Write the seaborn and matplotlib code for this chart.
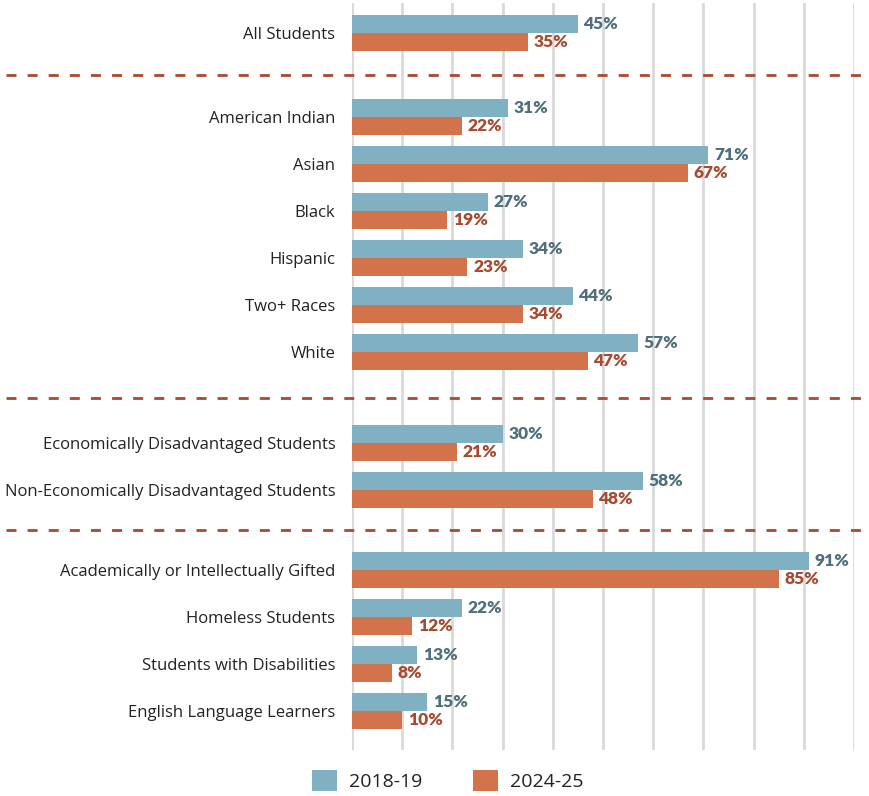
import matplotlib
matplotlib.use("Agg")
import matplotlib.pyplot as plt
import matplotlib.transforms as mtransforms
import pandas as pd
import seaborn as sns

# Student groups, their row positions (gaps separate the group blocks)
groups = [
    "All Students",
    "American Indian", "Asian", "Black", "Hispanic", "Two+ Races", "White",
    "Economically Disadvantaged Students", "Non-Economically Disadvantaged Students",
    "Academically or Intellectually Gifted", "Homeless Students",
    "Students with Disabilities", "English Language Learners",
]
rows = [0, 1.8, 2.8, 3.8, 4.8, 5.8, 6.8, 8.75, 9.75, 11.45, 12.45, 13.45, 14.45]
separators = [0.9, 7.78, 10.6]

years = ["2018-19", "2024-25"]
pct_2018 = [45, 31, 71, 27, 34, 44, 57, 30, 58, 91, 22, 13, 15]
pct_2024 = [35, 22, 67, 19, 23, 34, 47, 21, 48, 85, 12, 8, 10]

bar_colors = {"2018-19": "#7fb1c3", "2024-25": "#d3734c"}
label_colors = {"2018-19": "#4f6f7a", "2024-25": "#a84a30"}

df = pd.DataFrame({
    "row": rows * 2,
    "pct": pct_2018 + pct_2024,
    "year": [years[0]] * len(rows) + [years[1]] * len(rows),
})

sns.set_style("white")
plt.rcParams["font.family"] = ["Open Sans", "DejaVu Sans"]

fig = plt.figure(figsize=(8.7, 7.96), dpi=100)
ax = fig.add_axes([352 / 870, 1 - 750 / 796, 502 / 870, 747 / 796])

sns.barplot(
    data=df, x="pct", y="row", hue="year", hue_order=years,
    orient="h", native_scale=True, palette=bar_colors,
    width=0.77, saturation=1, linewidth=0, ax=ax, zorder=3,
)

ax.set_xlim(0, 100)
ax.set_ylim(15.29, -0.64)
ax.set_xticks(range(0, 101, 10))
ax.set_xticklabels([])
ax.tick_params(axis="both", length=0)
ax.grid(axis="x", color="#d9d9d9", linewidth=2, zorder=0)
ax.grid(axis="y", visible=False)
for side in ax.spines.values():
    side.set_visible(False)

ax.set_yticks(rows)
ax.set_yticklabels(groups, fontsize=12, color="#222222")
ax.tick_params(axis="y", pad=12)
ax.set_xlabel("")
ax.set_ylabel("")

# value labels at the end of each bar
for cont, yr in zip(ax.containers, years):
    texts = ax.bar_label(
        cont, fmt="%d%%", padding=4, color=label_colors[yr],
        fontsize=12.5, fontweight="heavy", family=["Lato", "DejaVu Sans"],
    )
    for t in texts:
        t.set_va("center")
        t.set_y(t.get_position()[1])

# dashed separators spanning the full width of the figure
trans = mtransforms.blended_transform_factory(ax.transAxes, ax.transData)
for y in separators:
    ax.plot([-0.69, 1.03], [y, y], transform=trans, clip_on=False,
            color="#a84a30", linewidth=2, dashes=(3.6, 4.0), zorder=4)

handles, labels = ax.get_legend_handles_labels()
ax.get_legend().remove()
fig.legend(
    handles, labels, loc="center", bbox_to_anchor=(0.515, 0.019),
    ncol=2, frameon=False, fontsize=14, handlelength=1.25, handleheight=1.25,
    handletextpad=0.65, columnspacing=2.6, labelcolor="#222222",
)

fig.savefig("out.png", dpi=100)
